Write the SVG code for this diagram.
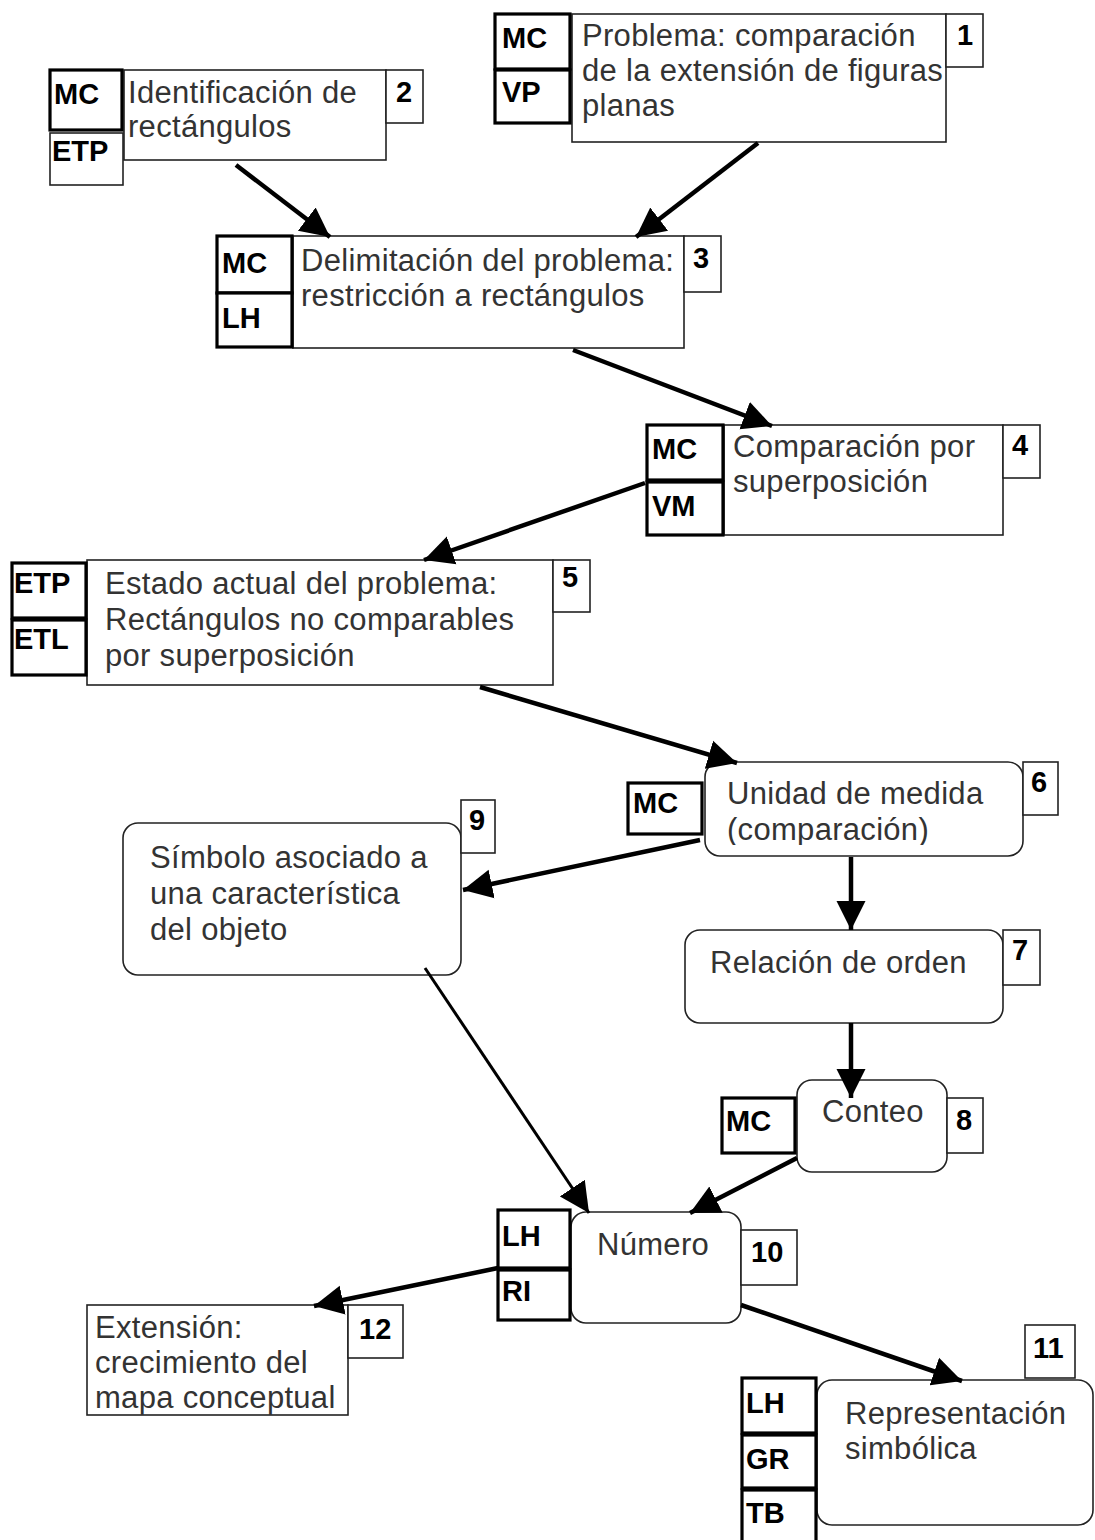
<svg xmlns="http://www.w3.org/2000/svg" width="1095" height="1540" viewBox="0 0 1095 1540">
<style>
.bg{fill:#fff}
.box{fill:#fff;stroke:#222;stroke-width:1.6}
.tag{fill:#fff;stroke:#000;stroke-width:3.2}
.tagt{fill:#fff;stroke:#222;stroke-width:1.6}
.num{fill:#fff;stroke:#222;stroke-width:1.6}
.t{font-family:"Liberation Sans",Arial,sans-serif;font-size:31px;letter-spacing:0.3px;fill:#333}
.tb{font-family:"Liberation Sans",Arial,sans-serif;font-size:29px;font-weight:bold;fill:#000}
.c{stroke:#000;stroke-width:4.5;fill:none}
.c2{stroke:#000;stroke-width:3;fill:none}
</style>
<defs>
<marker id="ah" viewBox="0 0 10 10" refX="10" refY="5" markerWidth="6.5" markerHeight="7" markerUnits="strokeWidth" orient="auto"><path d="M0,0 L10,5 L0,10 Z" fill="#000"/></marker>
<marker id="ah2" viewBox="0 0 10 10" refX="10" refY="5" markerWidth="10" markerHeight="10" markerUnits="strokeWidth" orient="auto"><path d="M0,0 L10,5 L0,10 Z" fill="#000"/></marker>
<clipPath id="clip6"><rect x="705" y="762" width="318" height="83"/></clipPath>
</defs>
<rect class="bg" x="0" y="0" width="1095" height="1540"/>

<g id="node1">
<rect class="box" x="572" y="14" width="374" height="128"/>
<rect class="num" x="946" y="14" width="37" height="53"/>
<rect class="tag" x="495" y="14" width="75" height="55"/>
<rect class="tag" x="495" y="70" width="75" height="53"/>
<text class="tb" x="502" y="48">MC</text>
<text class="tb" x="502" y="102">VP</text>
<text class="tb" x="957" y="45">1</text>
<text class="t" x="582" y="46">Problema: comparación</text>
<text class="t" x="582" y="81">de la extensión de figuras</text>
<text class="t" x="582" y="116">planas</text>
</g>

<g id="node2">
<rect class="box" x="124" y="70" width="262" height="90"/>
<rect class="num" x="386" y="70" width="37" height="53"/>
<rect class="tag" x="50" y="70" width="72" height="60"/>
<rect class="tagt" x="50" y="133" width="73" height="52"/>
<text class="tb" x="54" y="104">MC</text>
<text class="tb" x="52" y="161">ETP</text>
<text class="tb" x="396" y="102">2</text>
<text class="t" x="128" y="103">Identificación de</text>
<text class="t" x="128" y="137">rectángulos</text>
</g>

<g id="node3">
<rect class="box" x="293" y="236" width="391" height="112"/>
<rect class="num" x="684" y="236" width="37" height="56"/>
<rect class="tag" x="217" y="236" width="75" height="57"/>
<rect class="tag" x="217" y="293" width="75" height="54"/>
<text class="tb" x="222" y="273">MC</text>
<text class="tb" x="222" y="328">LH</text>
<text class="tb" x="693" y="268">3</text>
<text class="t" x="301" y="271">Delimitación del problema:</text>
<text class="t" x="301" y="306">restricción a rectángulos</text>
</g>

<g id="node4">
<rect class="box" x="724" y="425" width="279" height="110"/>
<rect class="num" x="1003" y="425" width="37" height="53"/>
<rect class="tag" x="647" y="425" width="76" height="55"/>
<rect class="tag" x="647" y="482" width="76" height="53"/>
<text class="tb" x="652" y="459">MC</text>
<text class="tb" x="652" y="516">VM</text>
<text class="tb" x="1012" y="455">4</text>
<text class="t" x="733" y="457">Comparación por</text>
<text class="t" x="733" y="492">superposición</text>
</g>

<g id="node5">
<rect class="box" x="87" y="560" width="466" height="125"/>
<rect class="num" x="553" y="560" width="37" height="52"/>
<rect class="tag" x="12" y="563" width="74" height="55"/>
<rect class="tag" x="12" y="620" width="74" height="55"/>
<text class="tb" x="14" y="593">ETP</text>
<text class="tb" x="14" y="649">ETL</text>
<text class="tb" x="562" y="587">5</text>
<text class="t" x="105" y="594">Estado actual del problema:</text>
<text class="t" x="105" y="630">Rectángulos no comparables</text>
<text class="t" x="105" y="666">por superposición</text>
</g>

<g id="node6">
<rect class="box" x="705" y="762" width="318" height="94" rx="15"/>
<rect class="num" x="1023" y="762" width="35" height="53"/>
<rect class="tag" x="628" y="783" width="74" height="51"/>
<text class="tb" x="633" y="813">MC</text>
<text class="tb" x="1031" y="792">6</text>
<text class="t" x="727" y="804">Unidad de medida</text>
<text class="t" x="727" y="840" clip-path="url(#clip6)">(comparación)</text>
</g>

<g id="node7">
<rect class="box" x="685" y="930" width="318" height="93" rx="15"/>
<rect class="num" x="1003" y="930" width="37" height="55"/>
<text class="tb" x="1012" y="960">7</text>
<text class="t" x="710" y="973">Relación de orden</text>
</g>

<g id="node8">
<rect class="box" x="797" y="1080" width="150" height="92" rx="15"/>
<rect class="num" x="947" y="1098" width="36" height="55"/>
<rect class="tag" x="722" y="1098" width="73" height="55"/>
<text class="tb" x="726" y="1131">MC</text>
<text class="tb" x="956" y="1130">8</text>
<text class="t" x="822" y="1122">Conteo</text>
</g>

<g id="node9">
<rect class="box" x="123" y="823" width="338" height="152" rx="15"/>
<rect class="num" x="461" y="800" width="34" height="53"/>
<text class="tb" x="469" y="830">9</text>
<text class="t" x="150" y="868">Símbolo asociado a</text>
<text class="t" x="150" y="904">una característica</text>
<text class="t" x="150" y="940">del objeto</text>
</g>

<g id="node10">
<rect class="box" x="571" y="1212" width="170" height="111" rx="15"/>
<rect class="num" x="741" y="1230" width="56" height="55"/>
<rect class="tag" x="498" y="1210" width="72" height="58"/>
<rect class="tag" x="498" y="1270" width="72" height="50"/>
<text class="tb" x="502" y="1246">LH</text>
<text class="tb" x="502" y="1301">RI</text>
<text class="tb" x="751" y="1262">10</text>
<text class="t" x="597" y="1255">Número</text>
</g>

<g id="node11">
<rect class="box" x="817" y="1380" width="276" height="145" rx="15"/>
<rect class="num" x="1025" y="1325" width="50" height="53"/>
<rect class="tag" x="742" y="1378" width="74" height="55"/>
<rect class="tag" x="742" y="1435" width="74" height="53"/>
<rect class="tag" x="742" y="1490" width="74" height="55"/>
<text class="tb" x="746" y="1413">LH</text>
<text class="tb" x="746" y="1469">GR</text>
<text class="tb" x="746" y="1523">TB</text>
<text class="tb" x="1033" y="1358">11</text>
<text class="t" x="845" y="1424">Representación</text>
<text class="t" x="845" y="1459">simbólica</text>
</g>

<g id="node12">
<rect class="box" x="87" y="1305" width="261" height="110"/>
<rect class="num" x="348" y="1305" width="55" height="53"/>
<text class="tb" x="359" y="1339">12</text>
<text class="t" x="95" y="1338">Extensión:</text>
<text class="t" x="95" y="1373">crecimiento del</text>
<text class="t" x="95" y="1408">mapa conceptual</text>
</g>

<g id="connectors">
<line class="c" x1="236" y1="165" x2="330" y2="237" marker-end="url(#ah)"/>
<line class="c" x1="758" y1="143" x2="636" y2="237" marker-end="url(#ah)"/>
<line class="c" x1="573" y1="350" x2="772" y2="426" marker-end="url(#ah)"/>
<line class="c" x1="645" y1="483" x2="424" y2="560" marker-end="url(#ah)"/>
<line class="c" x1="480" y1="687" x2="737" y2="763" marker-end="url(#ah)"/>
<line class="c" x1="700" y1="840" x2="463" y2="890" marker-end="url(#ah)"/>
<line class="c" x1="851" y1="857" x2="851" y2="930" marker-end="url(#ah)"/>
<line class="c" x1="851" y1="1023" x2="851" y2="1098" marker-end="url(#ah)"/>
<line class="c2" x1="425" y1="968" x2="589" y2="1213" marker-end="url(#ah2)"/>
<line class="c" x1="797" y1="1158" x2="690" y2="1213" marker-end="url(#ah)"/>
<line class="c" x1="498" y1="1268" x2="314" y2="1306" marker-end="url(#ah)"/>
<line class="c" x1="741" y1="1305" x2="962" y2="1381" marker-end="url(#ah)"/>
</g>
</svg>
